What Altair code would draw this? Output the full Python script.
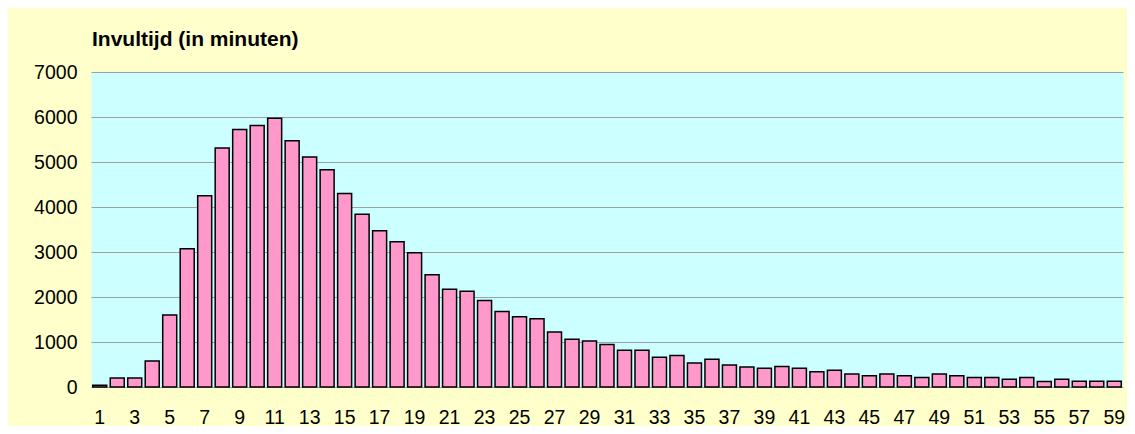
import altair as alt
import pandas as pd

# Data
minutes = list(range(1, 60))
counts = [40, 200, 200, 580, 1600, 3070, 4250, 5310, 5720, 5810,
          5970, 5470, 5110, 4830, 4300, 3840, 3475, 3230, 2985, 2495,
          2170, 2130, 1925, 1680, 1560, 1515, 1225, 1060, 1025, 945,
          815, 815, 660, 700, 535, 615, 490, 445, 415, 455,
          415, 340, 370, 290, 250, 290, 250, 210, 290, 250,
          210, 210, 170, 210, 125, 170, 130, 130, 130]
x_tick_labels = [1, 3, 5, 7, 9, 11, 13, 15, 17, 19, 21, 23, 25, 27, 29,
                 31, 33, 35, 37, 39, 41, 43, 45, 47, 49, 51, 53, 55, 57, 59]
y_ticks = [0, 1000, 2000, 3000, 4000, 5000, 6000, 7000]
title_text = "Invultijd (in minuten)"

df = pd.DataFrame({"minuut": minutes, "aantal": counts})

FONT = "Liberation Sans"

chart = alt.Chart(df).mark_bar(
    fill="#FF99CC", stroke="#000000", strokeWidth=1.5
).encode(
    x=alt.X("minuut:O", sort="ascending",
            scale=alt.Scale(paddingInner=0.2, paddingOuter=0.1),
            axis=alt.Axis(values=x_tick_labels, labelAngle=0, ticks=False,
                          domain=False, grid=False, title=None,
                          labelPadding=21, labelFontSize=19.5,
                          labelFont=FONT, labelColor="#000000")),
    y=alt.Y("aantal:Q",
            scale=alt.Scale(domain=[0, 7000], nice=False),
            axis=alt.Axis(values=y_ticks, format="d", ticks=False, domain=False,
                          grid=True, gridColor="#A0A0A0", gridWidth=1.2,
                          title=None, labelPadding=14, labelFontSize=19.5,
                          labelFont=FONT, labelColor="#000000")),
).properties(
    width=1032,
    height=315,
    background="#FFFFCC",
    padding={"left": 83, "top": 64, "right": 4, "bottom": 39},
    autosize=alt.AutoSizeParams(type="none"),
    title=alt.TitleParams(title_text, anchor="start", frame="group",
                          font=FONT, fontSize=21, fontWeight="bold",
                          color="#000000", dx=1, offset=12),
).configure_view(
    fill="#CCFFFF", stroke="transparent"
)

chart.save("out.html", embed_options={"renderer": "svg", "actions": False})
